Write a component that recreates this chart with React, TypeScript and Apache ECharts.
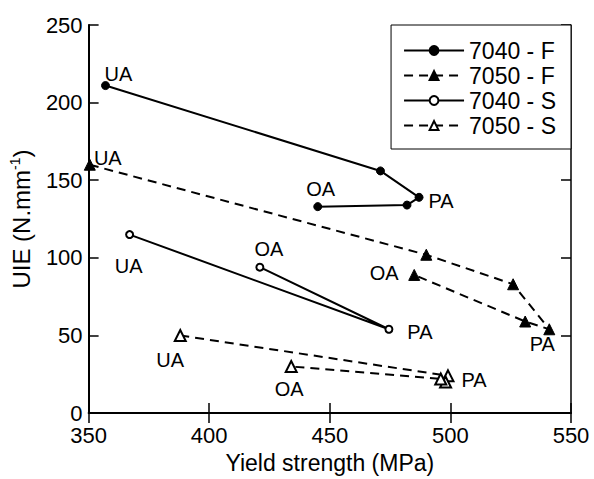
import React, { useEffect, useRef } from "react";
import * as echarts from "echarts";

// ---- data ----
const seriesNames = ["7040 - F", "7050 - F", "7040 - S", "7050 - S"];

const f7040X = [357, 471, 487, 482, 445];
const f7040Y = [211, 156, 139, 134, 133];
const f7040Labels = ["UA", "", "PA", "", "OA"];

const f7050X = [350.5, 490, 526, 541, 531, 485];
const f7050Y = [160, 102, 83, 54, 59, 89];
const f7050Labels = ["UA", "", "", "PA", "", "OA"];

const s7040X = [367, 474.5, 421];
const s7040Y = [115, 54, 94];
const s7040Labels = ["UA", "PA", "OA"];

const s7050X = [388, 499, 498, 496, 434];
const s7050Y = [50, 24, 20, 22, 30];
const s7050Labels = ["UA", "PA", "", "", "OA"];

const xTicks = { min: 350, max: 550, interval: 50 };
const yTicks = { min: 0, max: 250, interval: 50 };

// ---- label offsets (style) ----
const labelOffsets: Record<string, Record<string, number[]>> = {
  "7040 - F": { UA: [13, -12], PA: [22, 4], OA: [3, -18] },
  "7050 - F": { UA: [18, -7], PA: [-7, 15], OA: [-30, -2] },
  "7040 - S": { UA: [-1, 31], PA: [31, 3], OA: [9, -18] },
  "7050 - S": { UA: [-10, 25], PA: [26, 4], OA: [-2, 22] },
};

const FONT = "Liberation Sans, Arial, Helvetica, sans-serif";

function buildData(name: string, xs: number[], ys: number[], labels: string[]) {
  return xs.map((x, i) => {
    const lab = labels[i];
    const item: any = { value: [x, ys[i]] };
    if (lab) {
      item.label = {
        show: true,
        formatter: lab,
        position: "inside",
        align: "center",
        verticalAlign: "middle",
        offset: labelOffsets[name][lab],
        fontSize: 20,
        color: "#000",
        fontFamily: FONT,
      };
    }
    return item;
  });
}

export default function App() {
  const ref = useRef<HTMLDivElement>(null);
  useEffect(() => {
    if (!ref.current) return;
    const chart = echarts.init(ref.current, undefined, { renderer: "svg" });
    const axisLine = { show: true, lineStyle: { color: "#000", width: 2 } };
    const axisTick = { show: true, inside: true, length: 10, lineStyle: { color: "#000", width: 1.5 } };
    const mkSeries = (
      name: string,
      xs: number[],
      ys: number[],
      labels: string[],
      symbol: string,
      size: number,
      dashed: boolean
    ) => ({
      name,
      type: "line",
      data: buildData(name, xs, ys, labels),
      symbol,
      symbolSize: size,
      clip: false,
      color: "#000",
      itemStyle: { color: "#000", borderColor: "#000", borderWidth: 1 },
      lineStyle: { color: "#000", width: 2, type: dashed ? [9, 6] : "solid" },
      label: { show: false },
      emphasis: { disabled: true },
      z: 3,
    });
    chart.setOption({
      animation: false,
      backgroundColor: "#fff",
      textStyle: { fontFamily: FONT },
      grid: { left: 85, right: 23, top: 25, bottom: 62, containLabel: false },
      legend: {
        orient: "vertical",
        right: 23,
        top: 25,
        data: seriesNames,
        itemWidth: 60,
        itemHeight: 11,
        itemGap: 2,
        padding: [14, 15, 12, 12],
        borderColor: "#000",
        borderWidth: 1,
        backgroundColor: "#fff",
        textStyle: { fontSize: 23, color: "#000", fontFamily: FONT },
      },
      xAxis: [
        {
          type: "value",
          position: "bottom",
          ...xTicks,
          axisLine,
          axisTick,
          splitLine: { show: false },
          axisLabel: { fontSize: 22, color: "#000", margin: 11, fontFamily: FONT },
          name: "Yield strength (MPa)",
          nameLocation: "middle",
          nameGap: 32,
          nameTextStyle: { fontSize: 23, color: "#000", fontFamily: FONT },
        },
        {
          type: "value",
          position: "top",
          ...xTicks,
          axisLine: { show: true, lineStyle: { color: "#000", width: 1.5 } },
          axisTick,
          splitLine: { show: false },
          axisLabel: { show: false },
        },
      ],
      yAxis: [
        {
          type: "value",
          position: "left",
          ...yTicks,
          axisLine,
          axisTick,
          splitLine: { show: false },
          axisLabel: { fontSize: 22, color: "#000", margin: 6, fontFamily: FONT },
          name: "UIE (N.mm{sup|-1})",
          nameLocation: "middle",
          nameGap: 33,
          nameTextStyle: {
            fontSize: 24,
            color: "#000",
            fontFamily: FONT,
            lineHeight: 27,
            rich: {
              sup: { fontSize: 14, verticalAlign: "top", lineHeight: 14, color: "#000", fontFamily: FONT },
            },
          },
        },
        {
          type: "value",
          position: "right",
          ...yTicks,
          axisLine: { show: true, lineStyle: { color: "#000", width: 1.5 } },
          axisTick,
          splitLine: { show: false },
          axisLabel: { show: false },
        },
      ],
      series: [
        mkSeries(seriesNames[0], f7040X, f7040Y, f7040Labels, "circle", 8, false),
        mkSeries(seriesNames[1], f7050X, f7050Y, f7050Labels, "triangle", 11, true),
        mkSeries(seriesNames[2], s7040X, s7040Y, s7040Labels, "emptyCircle", 7, false),
        mkSeries(seriesNames[3], s7050X, s7050Y, s7050Labels, "emptyTriangle", 11, true),
      ],
    });
    return () => chart.dispose();
  }, []);
  return (
    <div
      ref={ref}
      style={{ position: "fixed", left: 0, top: 0, width: 594, height: 479, background: "#fff" }}
    />
  );
}
